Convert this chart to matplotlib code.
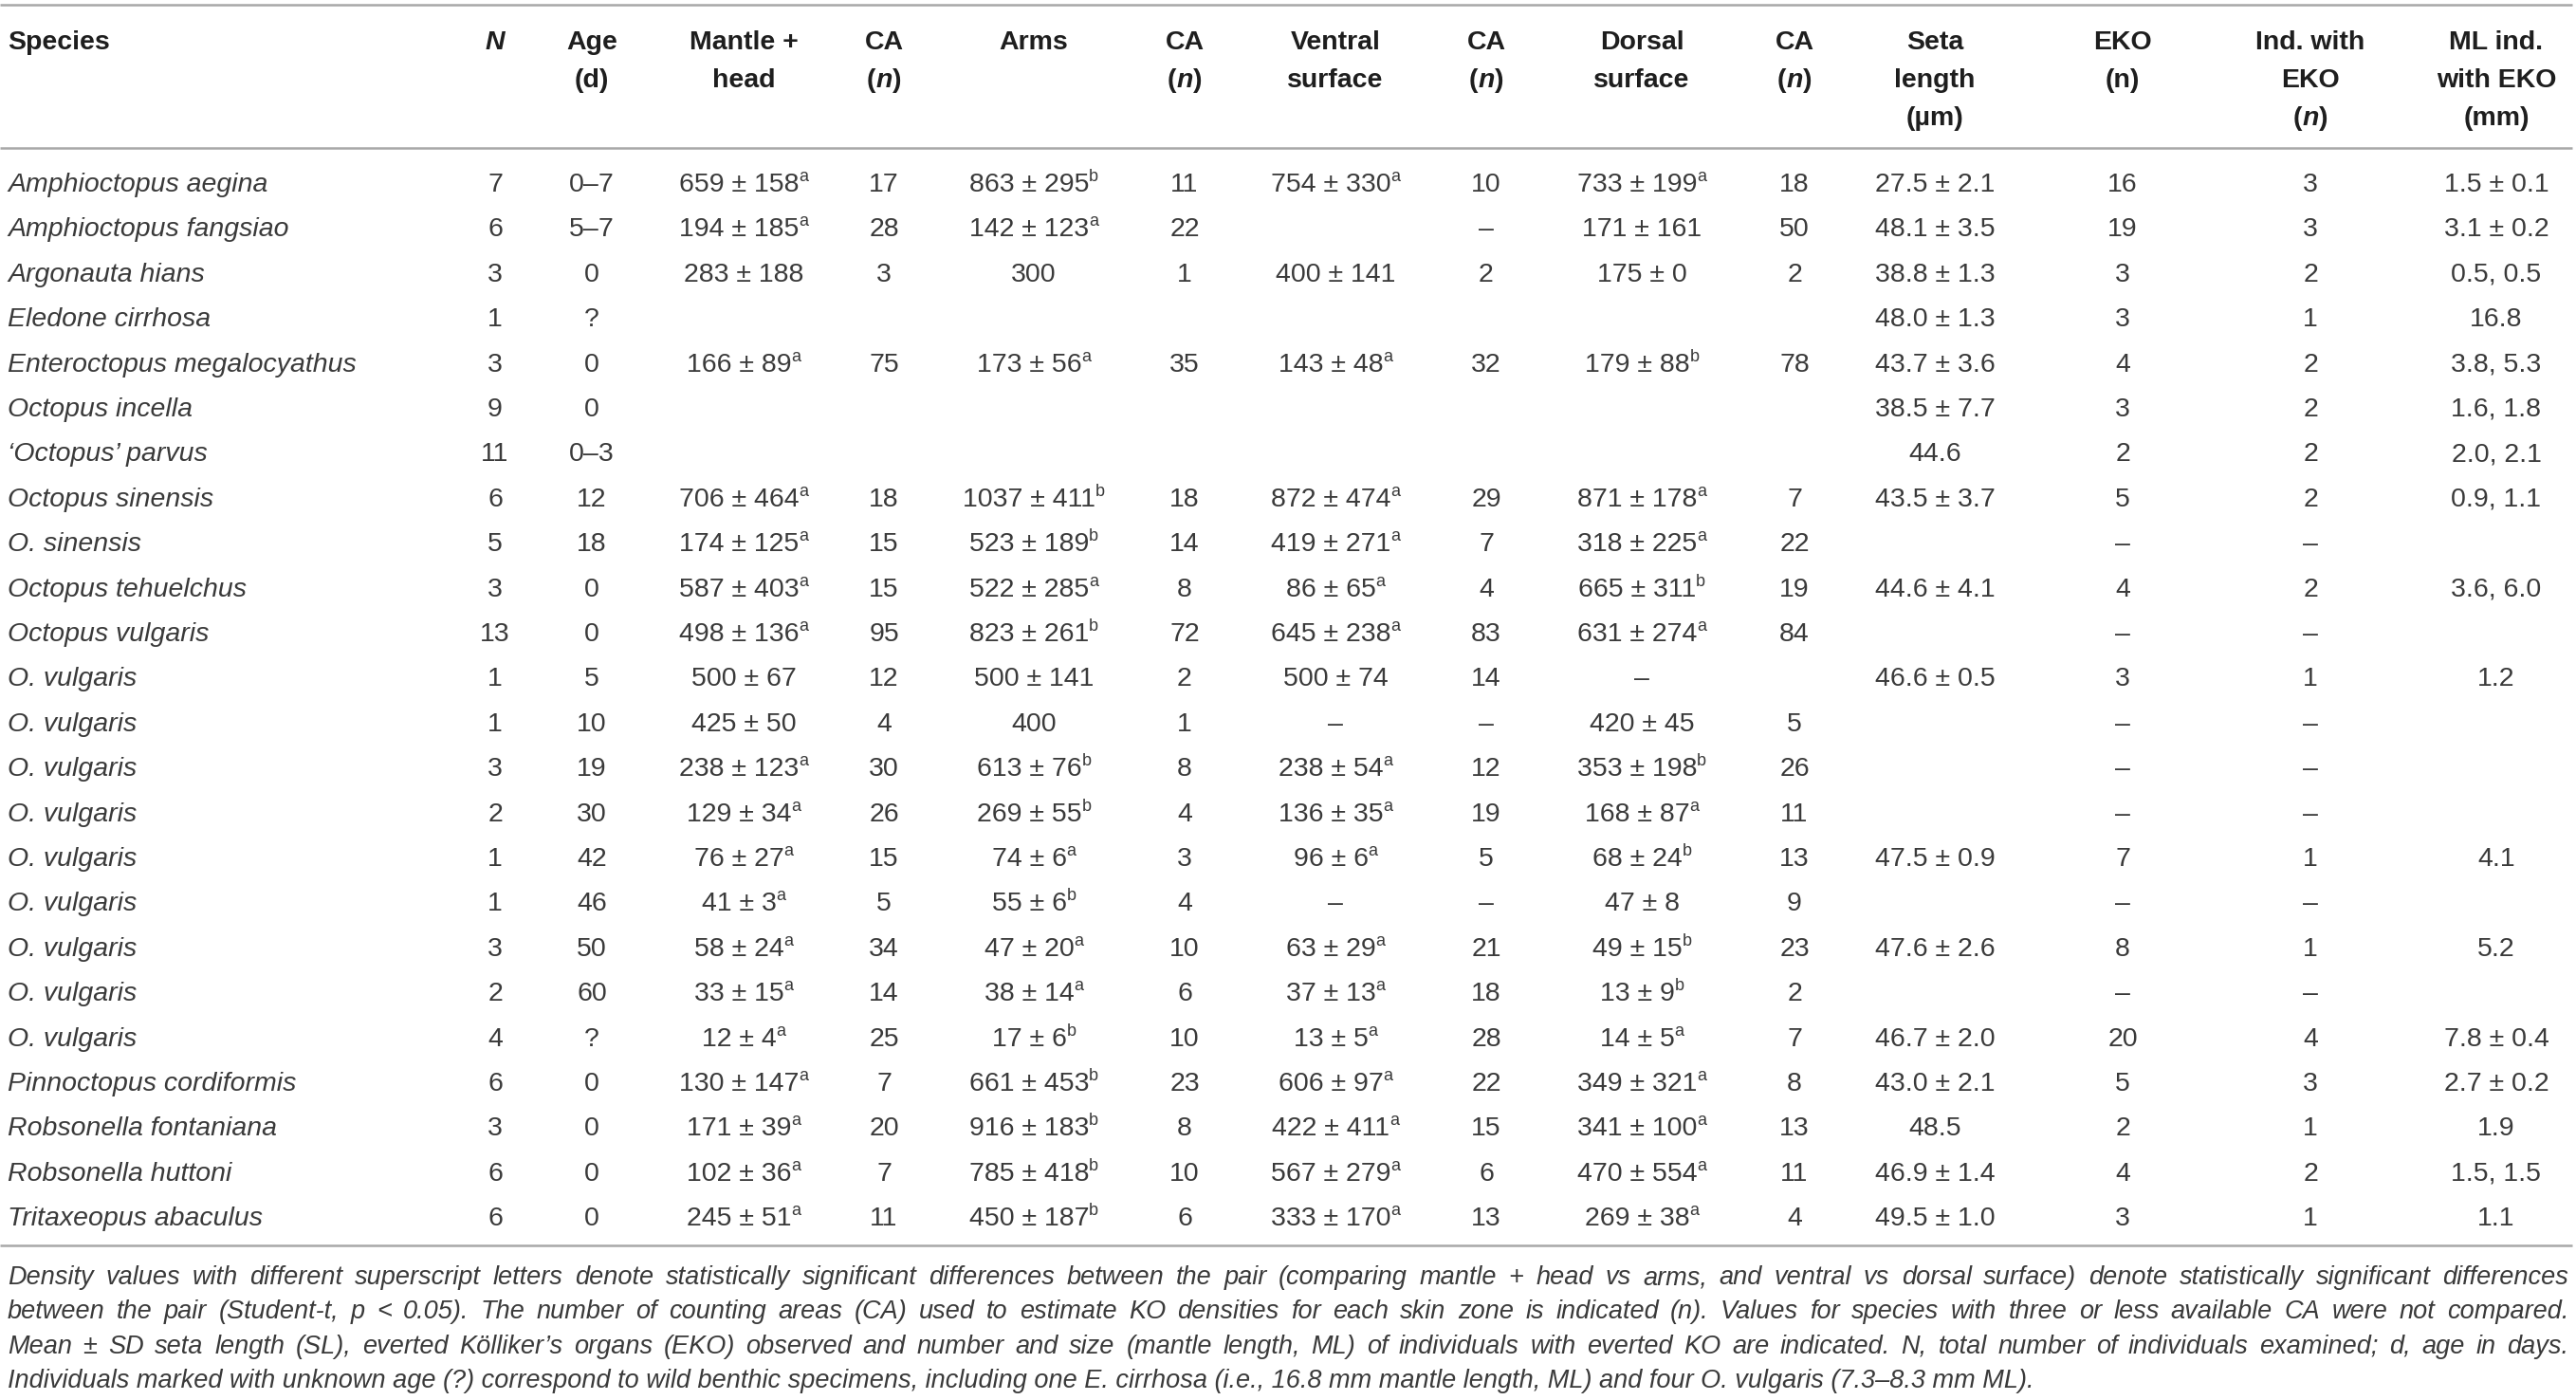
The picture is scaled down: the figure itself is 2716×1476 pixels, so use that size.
import matplotlib
matplotlib.use("Agg")
import matplotlib.pyplot as plt

# ---- table data ----
species = [
    "Amphioctopus aegina", "Amphioctopus fangsiao", "Argonauta hians", "Eledone cirrhosa",
    "Enteroctopus megalocyathus", "Octopus incella", "\u2018Octopus\u2019 parvus", "Octopus sinensis",
    "O. sinensis", "Octopus tehuelchus", "Octopus vulgaris", "O. vulgaris", "O. vulgaris",
    "O. vulgaris", "O. vulgaris", "O. vulgaris", "O. vulgaris", "O. vulgaris", "O. vulgaris",
    "O. vulgaris", "Pinnoctopus cordiformis", "Robsonella fontaniana", "Robsonella huttoni",
    "Tritaxeopus abaculus",
]
n_ind = ["7", "6", "3", "1", "3", "9", "11", "6", "5", "3", "13", "1", "1", "3", "2", "1", "1",
         "3", "2", "4", "6", "3", "6", "6"]
age = ["0\u20137", "5\u20137", "0", "?", "0", "0", "0\u20133", "12", "18", "0", "0", "5", "10",
       "19", "30", "42", "46", "50", "60", "?", "0", "0", "0", "0"]
mantle = ["659 ± 158^a", "194 ± 185^a", "283 ± 188", "", "166 ± 89^a", "", "", "706 ± 464^a",
          "174 ± 125^a", "587 ± 403^a", "498 ± 136^a", "500 ± 67", "425 ± 50", "238 ± 123^a",
          "129 ± 34^a", "76 ± 27^a", "41 ± 3^a", "58 ± 24^a", "33 ± 15^a", "12 ± 4^a",
          "130 ± 147^a", "171 ± 39^a", "102 ± 36^a", "245 ± 51^a"]
ca_mantle = ["17", "28", "3", "", "75", "", "", "18", "15", "15", "95", "12", "4", "30", "26",
             "15", "5", "34", "14", "25", "7", "20", "7", "11"]
arms = ["863 ± 295^b", "142 ± 123^a", "300", "", "173 ± 56^a", "", "", "1037 ± 411^b",
        "523 ± 189^b", "522 ± 285^a", "823 ± 261^b", "500 ± 141", "400", "613 ± 76^b",
        "269 ± 55^b", "74 ± 6^a", "55 ± 6^b", "47 ± 20^a", "38 ± 14^a", "17 ± 6^b",
        "661 ± 453^b", "916 ± 183^b", "785 ± 418^b", "450 ± 187^b"]
ca_arms = ["11", "22", "1", "", "35", "", "", "18", "14", "8", "72", "2", "1", "8", "4", "3",
           "4", "10", "6", "10", "23", "8", "10", "6"]
ventral = ["754 ± 330^a", "", "400 ± 141", "", "143 ± 48^a", "", "", "872 ± 474^a",
           "419 ± 271^a", "86 ± 65^a", "645 ± 238^a", "500 ± 74", "\u2013", "238 ± 54^a",
           "136 ± 35^a", "96 ± 6^a", "\u2013", "63 ± 29^a", "37 ± 13^a", "13 ± 5^a",
           "606 ± 97^a", "422 ± 411^a", "567 ± 279^a", "333 ± 170^a"]
ca_ventral = ["10", "\u2013", "2", "", "32", "", "", "29", "7", "4", "83", "14", "\u2013", "12",
              "19", "5", "\u2013", "21", "18", "28", "22", "15", "6", "13"]
dorsal = ["733 ± 199^a", "171 ± 161", "175 ± 0", "", "179 ± 88^b", "", "", "871 ± 178^a",
          "318 ± 225^a", "665 ± 311^b", "631 ± 274^a", "\u2013", "420 ± 45", "353 ± 198^b",
          "168 ± 87^a", "68 ± 24^b", "47 ± 8", "49 ± 15^b", "13 ± 9^b", "14 ± 5^a",
          "349 ± 321^a", "341 ± 100^a", "470 ± 554^a", "269 ± 38^a"]
ca_dorsal = ["18", "50", "2", "", "78", "", "", "7", "22", "19", "84", "", "5", "26", "11",
             "13", "9", "23", "2", "7", "8", "13", "11", "4"]
seta = ["27.5 ± 2.1", "48.1 ± 3.5", "38.8 ± 1.3", "48.0 ± 1.3", "43.7 ± 3.6", "38.5 ± 7.7",
        "44.6", "43.5 ± 3.7", "", "44.6 ± 4.1", "", "46.6 ± 0.5", "", "", "", "47.5 ± 0.9", "",
        "47.6 ± 2.6", "", "46.7 ± 2.0", "43.0 ± 2.1", "48.5", "46.9 ± 1.4", "49.5 ± 1.0"]
eko = ["16", "19", "3", "3", "4", "3", "2", "5", "\u2013", "4", "\u2013", "3", "\u2013", "\u2013",
       "\u2013", "7", "\u2013", "8", "\u2013", "20", "5", "2", "4", "3"]
ind_eko = ["3", "3", "2", "1", "2", "2", "2", "2", "\u2013", "2", "\u2013", "1", "\u2013", "\u2013",
           "\u2013", "1", "\u2013", "1", "\u2013", "4", "3", "1", "2", "1"]
ml_eko = ["1.5 ± 0.1", "3.1 ± 0.2", "0.5, 0.5", "16.8", "3.8, 5.3", "1.6, 1.8", "2.0, 2.1",
          "0.9, 1.1", "", "3.6, 6.0", "", "1.2", "", "", "", "4.1", "", "5.2", "", "7.8 ± 0.4",
          "2.7 ± 0.2", "1.9", "1.5, 1.5", "1.1"]

footnote = [
    "Density values with different superscript letters denote statistically significant differences "
    "between the pair (comparing mantle + head vs arms, and ventral vs dorsal surface) denote "
    "statistically significant differences",
    "between the pair (Student-t, p < 0.05). The number of counting areas (CA) used to estimate KO "
    "densities for each skin zone is indicated (n). Values for species with three or less available "
    "CA were not compared.",
    "Mean ± SD seta length (SL), everted K\u00f6lliker\u2019s organs (EKO) observed and number and "
    "size (mantle length, ML) of individuals with everted KO are indicated. N, total number of "
    "individuals examined; d, age in days.",
    "Individuals marked with unknown age (?) correspond to wild benthic specimens, including one "
    "E. cirrhosa (i.e., 16.8 mm mantle length, ML) and four O. vulgaris (7.3\u20138.3 mm ML).",
]

# ---- layout ----
W, H = 2716, 1476
FONT = ["Liberation Sans", "DejaVu Sans"]
TXT = "#3a3a3a"
LINE = "#a8a8a8"
FS = 20.5
col_x = [522, 624, 784, 932, 1090, 1249, 1408, 1567, 1731, 1892, 2040, 2238, 2436, 2632]
row0, row_step = 202, 47.4

fig = plt.figure(figsize=(W / 100, H / 100), dpi=100)
ax = fig.add_axes([0, 0, 1, 1])
ax.set_xlim(0, W)
ax.set_ylim(H, 0)
ax.axis("off")
renderer = fig.canvas.get_renderer()


def draw_runs(x, y, runs, ha="center"):
    """runs: list of (text, kwargs, dy); placed side by side on one baseline."""
    objs = []
    for txt, kw, dy in runs:
        t = ax.text(0, y + dy, txt, ha="left", va="baseline", family=FONT, **kw)
        objs.append((t, t.get_window_extent(renderer=renderer).width))
    total = sum(w for _, w in objs)
    x0 = x - total / 2 if ha == "center" else x
    for t, w in objs:
        t.set_x(x0)
        x0 += w


body = dict(fontsize=FS, color=TXT)
bold = dict(fontsize=20.5, color="#1e1e1e", fontweight="bold")
bold_it = dict(fontsize=20.5, color="#1e1e1e", fontweight="bold", style="italic")


def cell(x, y, s):
    if not s:
        return
    if "^" in s:
        main, sup = s.split("^")
        draw_runs(x, y, [(main, body, 0), (sup, dict(fontsize=13, color=TXT), -11)])
    else:
        draw_runs(x, y, [(s, body, 0)])


# rules
for yl in (5, 156, 1313):
    ax.plot([0, 2712], [yl, yl], color=LINE, lw=1.8, solid_capstyle="butt")

# header
hb = [52, 92, 132]
draw_runs(8, hb[0], [("Species", bold, 0)], ha="left")
n_hdr = [("(", bold, 0), ("n", bold_it, 0), (")", bold, 0)]
headers = [
    [[("N", bold_it, 0)]],
    [[("Age", bold, 0)], [("(d)", bold, 0)]],
    [[("Mantle +", bold, 0)], [("head", bold, 0)]],
    [[("CA", bold, 0)], n_hdr],
    [[("Arms", bold, 0)]],
    [[("CA", bold, 0)], n_hdr],
    [[("Ventral", bold, 0)], [("surface", bold, 0)]],
    [[("CA", bold, 0)], n_hdr],
    [[("Dorsal", bold, 0)], [("surface", bold, 0)]],
    [[("CA", bold, 0)], n_hdr],
    [[("Seta", bold, 0)], [("length", bold, 0)], [("(\u00b5m)", bold, 0)]],
    [[("EKO", bold, 0)], [("(n)", bold, 0)]],
    [[("Ind. with", bold, 0)], [("EKO", bold, 0)], n_hdr],
    [[("ML ind.", bold, 0)], [("with EKO", bold, 0)], [("(mm)", bold, 0)]],
]
for x, lines in zip(col_x, headers):
    for yb, runs in zip(hb, lines):
        draw_runs(x, yb, runs)

# body rows
columns = [n_ind, age, mantle, ca_mantle, arms, ca_arms, ventral, ca_ventral, dorsal,
           ca_dorsal, seta, eko, ind_eko, ml_eko]
for i, sp in enumerate(species):
    y = row0 + i * row_step
    draw_runs(8, y, [(sp, dict(fontsize=FS, color=TXT, style="italic"), 0)], ha="left")
    for x, col in zip(col_x, columns):
        cell(x, y, col[i])

# footnote, first three lines justified
fn_style = dict(fontsize=19.5, color="#3a3a3a", style="italic")
fn_base = [1354, 1390, 1427, 1463]
left, right = 8, 2708
for k, (line, yb) in enumerate(zip(footnote, fn_base)):
    if k < 3:
        words = line.split(" ")
        objs = []
        for wd in words:
            t = ax.text(0, yb, wd, ha="left", va="baseline", family=FONT, **fn_style)
            objs.append((t, t.get_window_extent(renderer=renderer).width))
        gap = (right - left - sum(w for _, w in objs)) / (len(objs) - 1)
        x0 = left
        for t, w in objs:
            t.set_x(x0)
            x0 += w + gap
    else:
        ax.text(left, yb, line, ha="left", va="baseline", family=FONT, **fn_style)

fig.savefig("out.png", dpi=100)
